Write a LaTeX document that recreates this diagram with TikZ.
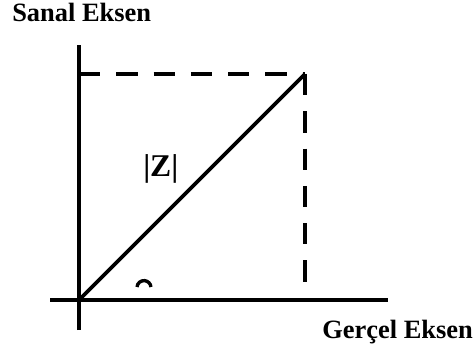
\documentclass[tikz,border=0pt]{standalone}
\usepackage{fontspec}
\setmainfont{Liberation Serif}
\tikzset{
  axis/.style={draw=black,line width=2.9pt},
  vec/.style={draw=black,line width=2.6pt},
  proj/.style={draw=black,line width=2.8pt,dash pattern=on 15.2pt off 11.3pt},
  lbl/.style={inner sep=0pt,font=\fontsize{18.8}{22}\selectfont\bfseries}
}
\begin{document}
\begin{tikzpicture}[x=0.025cm,y=-0.025cm]
  \useasboundingbox (0,0) rectangle (473,360);
  \coordinate (O) at (79,300);
  \coordinate (P) at (305,74);
  \coordinate (xl) at (50,300);  \coordinate (xr) at (388,300);
  \coordinate (yt) at (79,45);   \coordinate (yb) at (79,330);
  \coordinate (foot) at (305,284);
  \draw[axis] (xl) -- (xr);
  \draw[axis] (yb) -- (yt);
  \draw[vec] (O) -- (P);
  \draw[proj] (O |- P) -- (P);
  \draw[proj] (P) -- (foot);
  \draw[line width=2.4pt] (137,287) arc[start angle=185,end angle=355,radius=7];
  \node[lbl,anchor=base west] (im) at (12,22) {Sanal Eksen};
  \node[lbl,anchor=base west] (re) at (322,338) {Gerçel Eksen};
  \node[lbl,anchor=base west,font=\fontsize{22.5}{26}\selectfont\bfseries] (mag) at (143,177) {|Z|};
\end{tikzpicture}
\end{document}
